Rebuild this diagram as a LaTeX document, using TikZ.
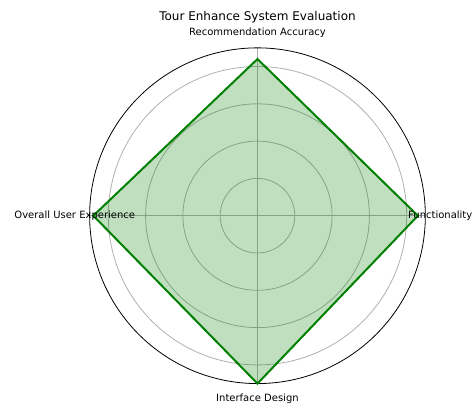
\documentclass[tikz,border=0pt]{standalone}
\usepackage{fontspec}
\setmainfont{DejaVu Sans}
\definecolor{mplgruen}{RGB}{0,128,0}
\definecolor{gitter}{RGB}{176,176,176}
\begin{document}
\begin{tikzpicture}[x=37.3pt, y=37.3pt, font=\fontsize{10}{12}\selectfont]
            \useasboundingbox (-6.903,-5.048) rectangle (5.751,5.783);
            \foreach \r in {1,2,3,4} \draw[gitter, line width=0.8pt] (0,0) circle (\r);
            \foreach \w in {0,90,180,270} \draw[gitter, line width=0.8pt] (0,0) -- (\w:4.5);
            \fill[mplgruen, fill opacity=0.25] (90:4.2) -- (0:4.3) -- (270:4.5) -- (180:4.4) -- cycle;
            \draw[line width=0.8pt] (0,0) circle (4.5);
            \draw[mplgruen, line width=2pt] (90:4.2) -- (0:4.3) -- (270:4.5) -- (180:4.4) -- cycle;

            % Beschriftungen

            \node (titel) at (0,5.335) {\fontsize{12}{14}\selectfont Tour Enhance System Evaluation};
            \node (genauigkeit) at (90:4.9) {Recommendation Accuracy};
            \node (funktion) at (0:4.9) {Functionality};
            \node (design) at (270:4.9) {Interface Design};
            \node (erlebnis) at (180:4.9) {Overall User Experience};
        \end{tikzpicture}
\end{document}
